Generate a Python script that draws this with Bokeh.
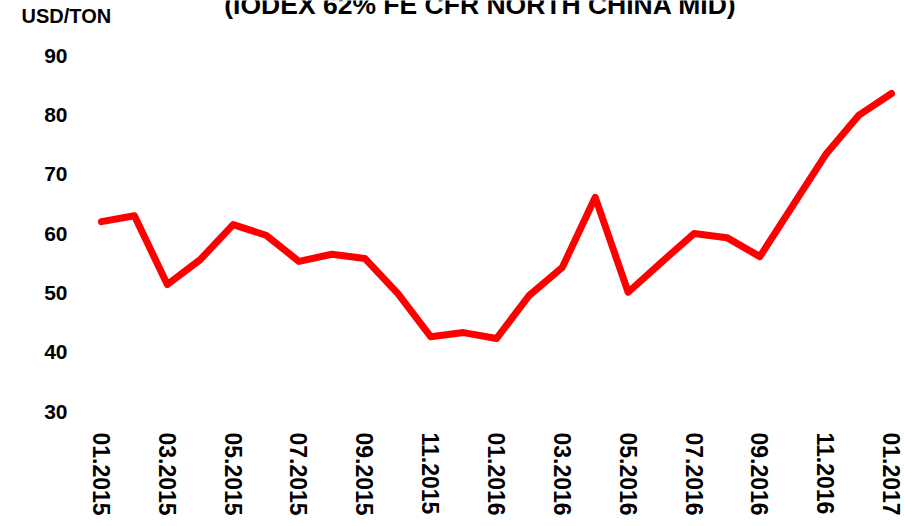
from bokeh.plotting import figure
from bokeh.models import Range1d, FixedTicker, Label
from bokeh.core.properties import value
from bokeh.embed import file_html
from bokeh.resources import INLINE

# ---- data ----
months = ["01.2015", "02.2015", "03.2015", "04.2015", "05.2015", "06.2015",
          "07.2015", "08.2015", "09.2015", "10.2015", "11.2015", "12.2015",
          "01.2016", "02.2016", "03.2016", "04.2016", "05.2016", "06.2016",
          "07.2016", "08.2016", "09.2016", "10.2016", "11.2016", "12.2016",
          "01.2017"]
prices = [62.0, 63.0, 51.4, 55.6, 61.5, 59.7, 55.3, 56.5, 55.8, 49.9, 42.6, 43.3,
          42.3, 49.6, 54.3, 66.1, 50.1, 55.1, 60.0, 59.3, 56.1, 64.7, 73.3, 79.9,
          83.6]
y_ticks = [30, 40, 50, 60, 70, 80, 90]
y_tick_labels = ["30", "40", "50", "60", "70", "80", "90"]
unit_label = "USD/TON"
title_text = "(IODEX 62% FE CFR NORTH CHINA MID)"

xs = list(range(len(months)))

p = figure(width=904, height=526, output_backend="svg", toolbar_location=None,
           title=None, y_axis_location=None,
           x_range=Range1d(-3.068, 24.273), y_range=Range1d(28.315, 99.27),
           min_border_left=0, min_border_right=4, min_border_top=0,
           min_border_bottom=105)
p.outline_line_color = None
p.background_fill_color = "white"
p.border_fill_color = "white"
p.grid.visible = False

p.line(xs, prices, line_color="#FF0000", line_width=7,
       line_join="round", line_cap="round")

# y tick labels (value axis), placed on the y scale
p.text(x=-1.033, y=y_ticks, text=y_tick_labels, text_align="right",
       text_baseline="middle", text_font=value("Liberation Sans"),
       text_font_style="bold", text_font_size="21px", text_color="black")

# x axis
xa = p.xaxis[0]
xa.ticker = FixedTicker(ticks=xs[::2])
xa.major_label_overrides = {i: months[i] for i in xs[::2]}
xa.major_label_orientation = "vertical"
xa.axis_line_color = None
xa.major_tick_line_color = None
xa.minor_tick_line_color = None
xa.major_tick_out = 0
xa.major_tick_in = 0
xa.major_label_standoff = 11
xa.major_label_text_font = "Liberation Sans"
xa.major_label_text_font_style = "bold"
xa.major_label_text_font_size = "23px"
xa.major_label_text_color = "black"

p.add_layout(Label(x=-2.43, y=96.58, text=unit_label, text_align="left",
                   text_baseline="alphabetic", text_font="Liberation Sans",
                   text_font_style="bold", text_font_size="20px",
                   text_color="black"))
p.add_layout(Label(x=11.513, y=98.43, text=title_text, text_align="center",
                   text_baseline="alphabetic", text_font="Liberation Sans",
                   text_font_style="bold", text_font_size="26.5px",
                   text_color="black"))

open("out.html", "w").write(file_html(p, INLINE))
